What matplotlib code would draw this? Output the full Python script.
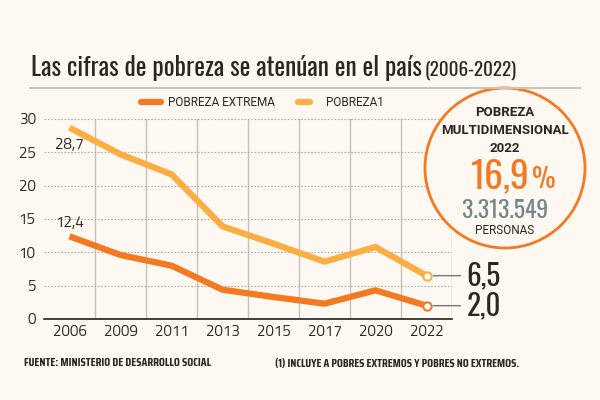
import matplotlib.pyplot as plt
from matplotlib.patches import Ellipse
from matplotlib.lines import Line2D

years = ["2006", "2009", "2011", "2013", "2015", "2017", "2020", "2022"]
pobreza_extrema = [12.4, 9.6, 8.0, 4.4, 3.3, 2.3, 4.3, 2.0]
pobreza = [28.7, 24.7, 21.7, 13.9, 11.3, 8.6, 10.8, 6.5]
yticks = [0, 5, 10, 15, 20, 25, 30]

BG = "#fdf8f2"
C_EXT = "#f47920"
C_POB = "#fbae42"
DARK = "#2b2620"
TITLE = ["Oswald", "DejaVu Sans"]
NARROW = ["Saira Condensed", "DejaVu Sans"]
BODY = ["Roboto", "DejaVu Sans"]
TICK = ["Titillium Web", "DejaVu Sans"]

W, H = 600, 400
def fx(px):
    return px / W
def fy(py):
    return 1 - py / H

fig = plt.figure(figsize=(6, 4), dpi=100, facecolor=BG)
ax = fig.add_axes([fx(44), fy(319), 408 / W, 200 / H], facecolor=BG)

x = list(range(len(years)))
ax.plot(x, pobreza, color=C_POB, lw=4.5, solid_capstyle="butt", solid_joinstyle="round", zorder=3)
ax.plot(x, pobreza_extrema, color=C_EXT, lw=4.5, solid_capstyle="butt", solid_joinstyle="round", zorder=3)
ax.plot(x[-1], pobreza[-1], "o", ms=6, mfc="white", mec=C_POB, mew=1.5, zorder=4)
ax.plot(x[-1], pobreza_extrema[-1], "o", ms=6, mfc="white", mec=C_EXT, mew=1.5, zorder=4)

ax.set_xlim(-0.5, len(years) - 0.5)
ax.set_ylim(0, 30)
ax.set_xticks(x)
ax.set_xticklabels(years, family=TICK, fontsize=11)
ax.set_yticks(yticks)
ax.set_yticklabels([str(v) for v in yticks], family=TICK, fontsize=11)
ax.set_xticks([i + 0.5 for i in x], minor=True)
ax.tick_params(axis="both", which="both", length=0, colors=DARK, pad=6)
ax.tick_params(axis="x", pad=4)
ax.grid(axis="y", which="major", color="#b0aca6", ls=(0, (1.5, 1.5)), lw=0.8)
ax.grid(axis="x", which="minor", color="#c4c0ba", lw=1)
for s in ["left", "right", "top"]:
    ax.spines[s].set_visible(False)
ax.spines["bottom"].set_color("#222222")
ax.spines["bottom"].set_linewidth(1.2)

ax.text(0, pobreza[0] - 1.6, "28,7", ha="center", va="top", fontsize=11, family=TICK, color=DARK)
ax.text(0, pobreza_extrema[0] + 1.0, "12,4", ha="center", va="bottom", fontsize=11, family=TICK, color=DARK)

# connectors to end labels
for val in [pobreza[-1], pobreza_extrema[-1]]:
    ax.annotate("", xy=(x[-1] + 0.08, val), xytext=(x[-1] + 0.72, val),
                arrowprops=dict(arrowstyle="-", color="#777777", lw=1),
                annotation_clip=False)
ax.text(x[-1] + 0.78, pobreza[-1], "6,5", ha="left", va="center", fontsize=21,
        fontweight="bold", family=TITLE, color=DARK)
ax.text(x[-1] + 0.78, pobreza_extrema[-1], "2,0", ha="left", va="center", fontsize=21,
        fontweight="bold", family=TITLE, color=DARK)

# title
fig.text(fx(31), fy(76), "Las cifras de pobreza se atenúan en el país", fontsize=18.3,
         fontweight="bold", family=TITLE, color=DARK, va="baseline")
fig.text(fx(425), fy(76), "(2006-2022)", fontsize=13.8, fontweight="medium",
         family=TITLE, color=DARK, va="baseline")
fig.add_artist(Line2D([fx(30), fx(580)], [fy(88), fy(88)], color="#c9c4bd", lw=1.5))

# legend
fig.add_artist(Line2D([fx(141), fx(161)], [fy(102), fy(102)], color=C_EXT, lw=4.5, solid_capstyle="round"))
fig.text(fx(168), fy(102), "POBREZA EXTREMA", fontsize=8.5, family=BODY, color=DARK, va="center")
fig.add_artist(Line2D([fx(298), fx(310)], [fy(102), fy(102)], color=C_POB, lw=4.5, solid_capstyle="round"))
fig.text(fx(326), fy(102), "POBREZA1", fontsize=8.5, family=BODY, color=DARK, va="center")

# circle callout
circ = Ellipse((fx(505), fy(168)), 160 / W, 160 / H, transform=fig.transFigure,
               facecolor=BG, edgecolor=C_EXT, lw=2)
fig.add_artist(circ)

fig.text(fx(505), fy(112), "POBREZA", fontsize=9.5, fontweight="bold", family=BODY, ha="center", va="center", color=DARK)
fig.text(fx(505), fy(130), "MULTIDIMENSIONAL", fontsize=9.5, fontweight="bold", family=BODY, ha="center", va="center", color=DARK)
fig.text(fx(505), fy(148), "2022", fontsize=9.5, fontweight="bold", family=BODY, ha="center", va="center", color=DARK)
fig.text(fx(530), fy(188), "16,9", fontsize=27, fontweight="bold", family=TITLE, ha="right", va="baseline", color=C_EXT)
fig.text(fx(532), fy(188), "%", fontsize=19, fontweight="bold", family=TITLE, ha="left", va="baseline", color=C_EXT)
fig.text(fx(505), fy(210), "3.313.549", fontsize=17, fontweight="bold", family=TITLE, ha="center", va="center", color="#72878b")
fig.text(fx(505), fy(231), "PERSONAS", fontsize=8.5, family=BODY, ha="center", va="center", color=DARK)

# footer
fig.text(fx(24), fy(363), "FUENTE: MINISTERIO DE DESARROLLO SOCIAL", fontsize=8.4, family=NARROW,
         fontweight="bold", color=DARK, va="center")
fig.text(fx(275), fy(363), "(1) INCLUYE A POBRES EXTREMOS Y POBRES NO EXTREMOS.", fontsize=8.3,
         family=NARROW, fontweight="bold", color=DARK, va="center")

fig.savefig("out.png", dpi=100, facecolor=BG)
